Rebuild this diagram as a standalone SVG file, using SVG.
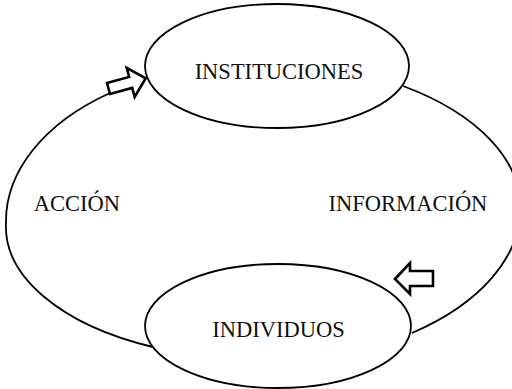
<svg xmlns="http://www.w3.org/2000/svg" width="512" height="389" viewBox="0 0 512 389">
  <style>
    .node { fill: #fff; stroke: #000; stroke-width: 1.8; }
    .edge { fill: none; stroke: #000; stroke-width: 1.8; }
    .arrow { fill: #fff; stroke: #000; stroke-width: 2.6; stroke-linejoin: miter; }
    .lbl { font-family: "Liberation Serif", "Times New Roman", serif; font-size: 22.5px; fill: #111; text-anchor: middle; }
  </style>
  <rect width="512" height="389" fill="#fff"/>
  <g id="connectors">
    <path class="edge" d="M110,93 A250,158 0 0,0 6,223 A250,132 0 0,0 153,347"/>
    <path class="edge" d="M403,86 A270,146 0 0,1 520,208 A270,155 0 0,1 412,333"/>
    <polygon class="arrow" transform="translate(108.5,88.5) rotate(-15.4)" points="0,-5.7 23,-5.7 23,-15 38.6,0 23,15 23,5.7 0,5.7"/>
    <polygon class="arrow" points="395,279 410,263 410,271 433,271 433,286 410,286 410,294"/>
    <text class="lbl" x="77" y="211">ACCIÓN</text>
    <text class="lbl" x="408" y="211">INFORMACIÓN</text>
  </g>
  <g id="node-instituciones">
    <ellipse class="node" cx="277" cy="66" rx="132" ry="62"/>
    <text class="lbl" x="279" y="79">INSTITUCIONES</text>
  </g>
  <g id="node-individuos">
    <ellipse class="node" cx="278" cy="326" rx="133" ry="62"/>
    <text class="lbl" x="278.5" y="337">INDIVIDUOS</text>
  </g>
</svg>
